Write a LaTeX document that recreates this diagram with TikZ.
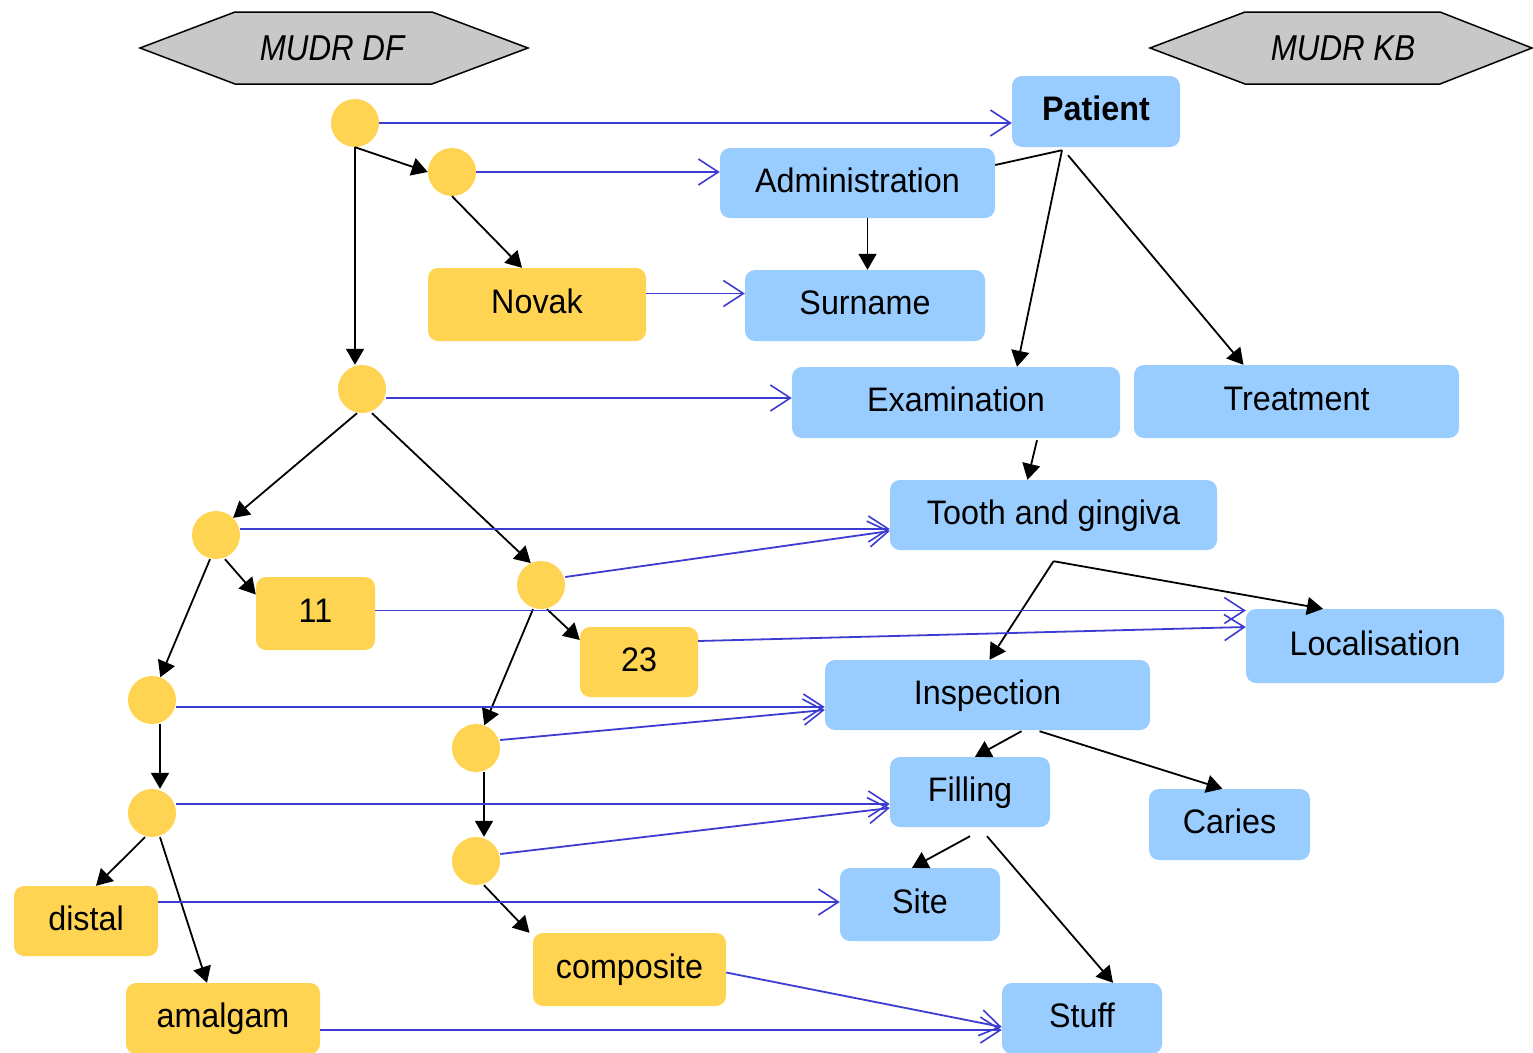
\documentclass[tikz,border=0pt]{standalone}
\usepackage{fontspec}
\setmainfont{Liberation Sans}
\usetikzlibrary{arrows.meta}
\definecolor{kbblue}{HTML}{9ACDFF}
\definecolor{dfyellow}{HTML}{FFD452}
\definecolor{mapblue}{HTML}{3C3CD2}
\definecolor{hexgray}{HTML}{C8C8C8}
\newcommand{\sx}[1]{\scalebox{0.95}[1.0]{#1}}
\begin{document}
\begin{tikzpicture}[x=1pt,y=-1pt,
  box/.style={rectangle, rounded corners=10pt, inner sep=0pt,
    font=\fontsize{34}{34}\selectfont, text height=26pt, text depth=8pt},
  kb/.style={box, fill=kbblue},
  df/.style={box, fill=dfyellow},
  dot/.style={circle, fill=dfyellow, minimum size=48pt, inner sep=0pt},
  hex/.style={draw=black, line width=1.5pt, fill=hexgray},
  hextext/.style={font=\fontsize{36}{36}\selectfont\itshape},
  tree/.style={draw=black, line width=1.8pt, -{Triangle[length=16pt,width=18pt]}},
  plain/.style={draw=black, line width=1.8pt},
  map/.style={draw=mapblue, line width=1.8pt, -{Straight Barb[length=20pt,width=26pt,line width=1.6pt]}},
]
\useasboundingbox[fill=white] (0,0) rectangle (1533,1052);

% headers
\draw[hex] (140,48) -- (235,12) -- (432,12) -- (528,48) -- (432,84) -- (235,84) -- cycle;
\node[hextext] (hdf) at (332,48) {\scalebox{0.87}[1.0]{MUDR DF}};
\draw[hex] (1150,48) -- (1245,12) -- (1440,12) -- (1532,48) -- (1440,84) -- (1245,84) -- cycle;
\node[hextext] (hkb) at (1343,48) {\scalebox{0.87}[1.0]{MUDR KB}};

% KB boxes
\node[kb, minimum width=168pt, minimum height=71pt] (patient) at (1096,111.5) {\sx{\bfseries Patient}};
\node[kb, minimum width=275pt, minimum height=70pt] (admin) at (857.5,183) {\sx{Administration}};
\node[kb, minimum width=240pt, minimum height=71pt] (surname) at (865,305.5) {\sx{Surname}};
\node[kb, minimum width=328pt, minimum height=71pt] (exam) at (956,402.5) {\sx{Examination}};
\node[kb, minimum width=325pt, minimum height=73pt] (treat) at (1296.5,401.5) {\sx{Treatment}};
\node[kb, minimum width=327pt, minimum height=70pt] (tooth) at (1053.5,515) {\sx{Tooth and gingiva}};
\node[kb, minimum width=258pt, minimum height=74pt] (loc) at (1375,646) {\sx{Localisation}};
\node[kb, minimum width=325pt, minimum height=70pt] (insp) at (987.5,695) {\sx{Inspection}};
\node[kb, minimum width=160pt, minimum height=70pt] (filling) at (970,792) {\sx{Filling}};
\node[kb, minimum width=161pt, minimum height=71pt] (caries) at (1229.5,824.5) {\sx{Caries}};
\node[kb, minimum width=160pt, minimum height=73pt] (site) at (920,904.5) {\sx{Site}};
\node[kb, minimum width=160pt, minimum height=71pt] (stuff) at (1082,1018.5) {\sx{Stuff}};

% DF boxes
\node[df, minimum width=218pt, minimum height=73pt] (novak) at (537,304.5) {\sx{Novak}};
\node[df, minimum width=119pt, minimum height=73pt] (n11) at (315.5,613.5) {\sx{11}};
\node[df, minimum width=118pt, minimum height=70pt] (n23) at (639,662) {\sx{23}};
\node[df, minimum width=144pt, minimum height=70pt] (distal) at (86,921) {\sx{distal}};
\node[df, minimum width=194pt, minimum height=71pt] (amalgam) at (223,1018.5) {\sx{amalgam}};
\node[df, minimum width=193pt, minimum height=73pt] (composite) at (629.5,969.5) {\sx{composite}};

% DF dots
\node[dot] (c1) at (355,123) {};
\node[dot] (c2) at (452,172) {};
\node[dot] (c3) at (362,389) {};
\node[dot] (c4) at (216,535) {};
\node[dot] (c5) at (541,585) {};
\node[dot] (c6) at (152,700) {};
\node[dot] (c7) at (476,748) {};
\node[dot] (c8) at (152,813) {};
\node[dot] (c9) at (476,861) {};

% DF tree
\draw[tree] (c1.south) -- (c1.south |- c3.north);
\draw[tree] (c1.south) -- (c2.west);
\draw[tree] (c2.south) -- ([xshift=-15pt]novak.north);
\draw[tree] ([xshift=-5pt]c3.south) -- (c4.north east);
\draw[tree] ([xshift=10pt]c3.south) -- (c5.115);
\draw[tree] ([xshift=-6pt]c4.south) -- (c6.70);
\draw[tree] ([xshift=9pt]c4.south) -- ([yshift=19pt]n11.west);
\draw[tree] ([xshift=-8pt]c5.south) -- (c7.70);
\draw[tree] ([xshift=6pt]c5.south) -- ([yshift=22pt]n23.west);
\draw[tree] ([xshift=8pt]c6.south) -- ([xshift=8pt]c6.south |- c8.north);
\draw[tree] ([xshift=8pt]c7.south) -- ([xshift=8pt]c7.south |- c9.north);
\draw[tree] ([xshift=-7pt]c8.south) -- ([xshift=10pt]distal.north);
\draw[tree] ([xshift=8pt]c8.south) -- ([xshift=-16pt]amalgam.north);
\draw[tree] ([xshift=8pt]c9.south) -- ([xshift=-100pt]composite.north);

% KB tree
\coordinate (pb) at ([xshift=-34pt,yshift=-3pt]patient.south);
\draw[plain] ([yshift=18pt]admin.east) -- (pb);
\draw[tree] (pb) -- ([xshift=61pt]exam.north);
\draw[tree] ([xshift=-28pt,yshift=-8pt]patient.south) -- ([xshift=-53pt]treat.north);
\draw[tree] ([xshift=10pt]admin.south) -- ([xshift=10pt]admin.south |- surname.north);
\draw[tree] ([xshift=81pt,yshift=-2pt]exam.south) -- ([xshift=-26pt]tooth.north);
\coordinate (tb) at ([yshift=-11pt]tooth.south);
\draw[tree] (tb) -- ([xshift=2pt]insp.north);
\draw[tree] (tb) -- ([xshift=-52pt]loc.north);
\draw[tree] ([xshift=34pt,yshift=-1pt]insp.south) -- ([xshift=5pt]filling.north);
\draw[tree] ([xshift=52pt,yshift=-1pt]insp.south) -- ([xshift=-7pt]caries.north);
\draw[tree] ([yshift=-9pt]filling.south) -- ([xshift=-8pt]site.north);
\draw[tree] ([xshift=17pt,yshift=-9pt]filling.south) -- ([xshift=31pt]stuff.north);

% mapping arrows
\draw[map] (c1.east) -- (c1.east -| patient.west);
\draw[map] (c2.east) -- (c2.east -| admin.west);
\draw[map] ([yshift=11pt]novak.east) -- ([yshift=11pt]novak.east -| surname.west);
\draw[map] ([yshift=-9pt]c3.east) -- ([yshift=-9pt]c3.east -| exam.west);
\draw[map] ([yshift=6pt]c4.east) -- ([yshift=6pt]c4.east -| tooth.west);
\draw[map] ([yshift=8pt]c5.east) -- ([yshift=-16pt]tooth.west);
\draw[map] ([yshift=3pt]n11.east) -- ([yshift=3pt]n11.east -| loc.west);
\draw[map] ([yshift=21pt]n23.east) -- ([yshift=19pt]loc.west);
\draw[map] ([yshift=-7pt]c6.east) -- ([yshift=-7pt]c6.east -| insp.west);
\draw[map] ([yshift=8pt]c7.east) -- ([yshift=-15pt]insp.west);
\draw[map] ([yshift=9pt]c8.east) -- ([yshift=9pt]c8.east -| filling.west);
\draw[map] ([yshift=7pt]c9.east) -- ([yshift=-16pt]filling.west);
\draw[map] ([yshift=19pt]distal.east) -- ([yshift=19pt]distal.east -| site.west);
\draw[map] ([yshift=-11.5pt]amalgam.east) -- ([yshift=-11.5pt]amalgam.east -| stuff.west);
\draw[map] ([yshift=-3pt]composite.east) -- ([yshift=-8.5pt]stuff.west);
\end{tikzpicture}
\end{document}
